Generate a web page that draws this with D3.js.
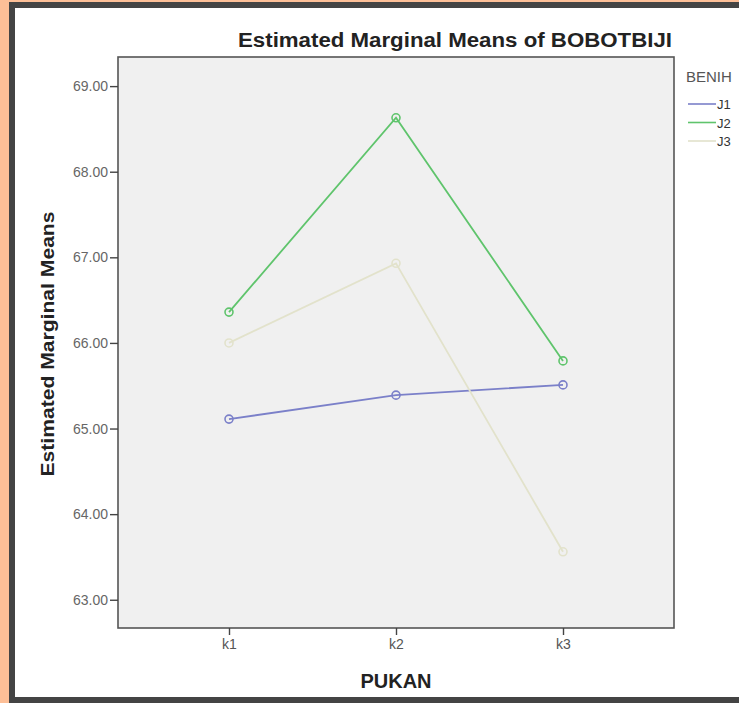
<!DOCTYPE html>
<html><head><meta charset="utf-8">
<script src="https://cdn.jsdelivr.net/npm/d3@7"></script>
<style>
html,body{margin:0;padding:0;background:#FDBF97;}
svg{display:block;}
</style></head>
<body>
<script>
const categories = ["k1","k2","k3"];
const seriesNames = ["J1","J2","J3"];
const valuesJ1 = [65.11, 65.39, 65.51];
const valuesJ2 = [66.36, 68.63, 65.79];
const valuesJ3 = [66.00, 66.93, 63.56];
const yTicks = [63, 64, 65, 66, 67, 68, 69];
const seriesColors = ["#7B80C9", "#5FC46C", "#E2E2CB"];

const series = [valuesJ1, valuesJ2, valuesJ3].map((v,i)=>({name:seriesNames[i], values:v, color:seriesColors[i]}));

const W=739, H=703;
const font="Liberation Sans, Arial, sans-serif";
const svg = d3.select("body").append("svg").attr("width",W).attr("height",H);
// frame
svg.append("rect").attr("x",0).attr("y",0).attr("width",W).attr("height",H).attr("fill","#FDBF97");
svg.append("rect").attr("x",12).attr("y",5).attr("width",W+10).attr("height",695).attr("fill","white")
  .attr("stroke","#444").attr("stroke-width",6);

const plot = {l:118, t:57, r:674, b:628};
const x = d3.scalePoint().domain(categories).range([229,563]);
const y = d3.scaleLinear().domain([62.67, 69.34]).range([plot.b, plot.t]);

svg.append("rect").attr("x",plot.l).attr("y",plot.t).attr("width",plot.r-plot.l).attr("height",plot.b-plot.t)
  .attr("fill","#F0F0F0").attr("stroke","#555").attr("stroke-width",1.6);

const yAxis = svg.append("g").attr("transform",`translate(${plot.l},0)`)
  .call(d3.axisLeft(y).tickValues(yTicks).tickFormat(d3.format(".2f")).tickSize(8).tickSizeOuter(0));
yAxis.select(".domain").remove();
yAxis.selectAll("line").attr("stroke","#444").attr("stroke-width",1.4);
yAxis.selectAll("text").attr("font-family",font).attr("font-size",14).attr("fill","#666").attr("x",-10);

const xAxis = svg.append("g").attr("transform",`translate(0,${plot.b})`)
  .call(d3.axisBottom(x).tickSize(7).tickSizeOuter(0));
xAxis.select(".domain").remove();
xAxis.selectAll("line").attr("stroke","#444").attr("stroke-width",1.4);
xAxis.selectAll("text").attr("font-family",font).attr("font-size",14).attr("fill","#555").attr("y",11);

const line = d3.line().x((d,i)=>x(categories[i])).y(d=>y(d));
const gS = svg.append("g");
series.forEach(s=>{
  gS.append("path").datum(s.values).attr("d",line).attr("fill","none").attr("stroke",s.color).attr("stroke-width",1.8);
  gS.selectAll(null).data(s.values).enter().append("circle")
    .attr("cx",(d,i)=>x(categories[i])).attr("cy",d=>y(d)).attr("r",4)
    .attr("fill","none").attr("stroke",s.color).attr("stroke-width",1.6);
});

svg.append("text").attr("x",455).attr("y",47).attr("text-anchor","middle").attr("font-family",font)
  .attr("font-weight","bold").attr("font-size",20).attr("fill","#222")
  .attr("textLength",434).attr("lengthAdjust","spacingAndGlyphs").text("Estimated Marginal Means of BOBOTBIJI");
svg.append("text").attr("transform","translate(54,344) rotate(-90)").attr("text-anchor","middle").attr("font-family",font)
  .attr("font-weight","bold").attr("font-size",18).attr("fill","#222")
  .attr("textLength",265).attr("lengthAdjust","spacingAndGlyphs").text("Estimated Marginal Means");
svg.append("text").attr("x",396).attr("y",688).attr("text-anchor","middle").attr("font-family",font)
  .attr("font-weight","bold").attr("font-size",20).attr("fill","#222").text("PUKAN");

// legend
const lg = svg.append("g");
lg.append("text").attr("x",686).attr("y",82).attr("font-family",font).attr("font-size",15).attr("fill","#555").text("BENIH");
series.forEach((s,i)=>{
  const yy = 104 + i*18.5;
  lg.append("line").attr("x1",688).attr("x2",716).attr("y1",yy).attr("y2",yy).attr("stroke",s.color).attr("stroke-width",1.6);
  lg.append("text").attr("x",717).attr("y",yy+5).attr("font-family",font).attr("font-size",13).attr("fill","#333").text(s.name);
});
</script>
</body></html>
